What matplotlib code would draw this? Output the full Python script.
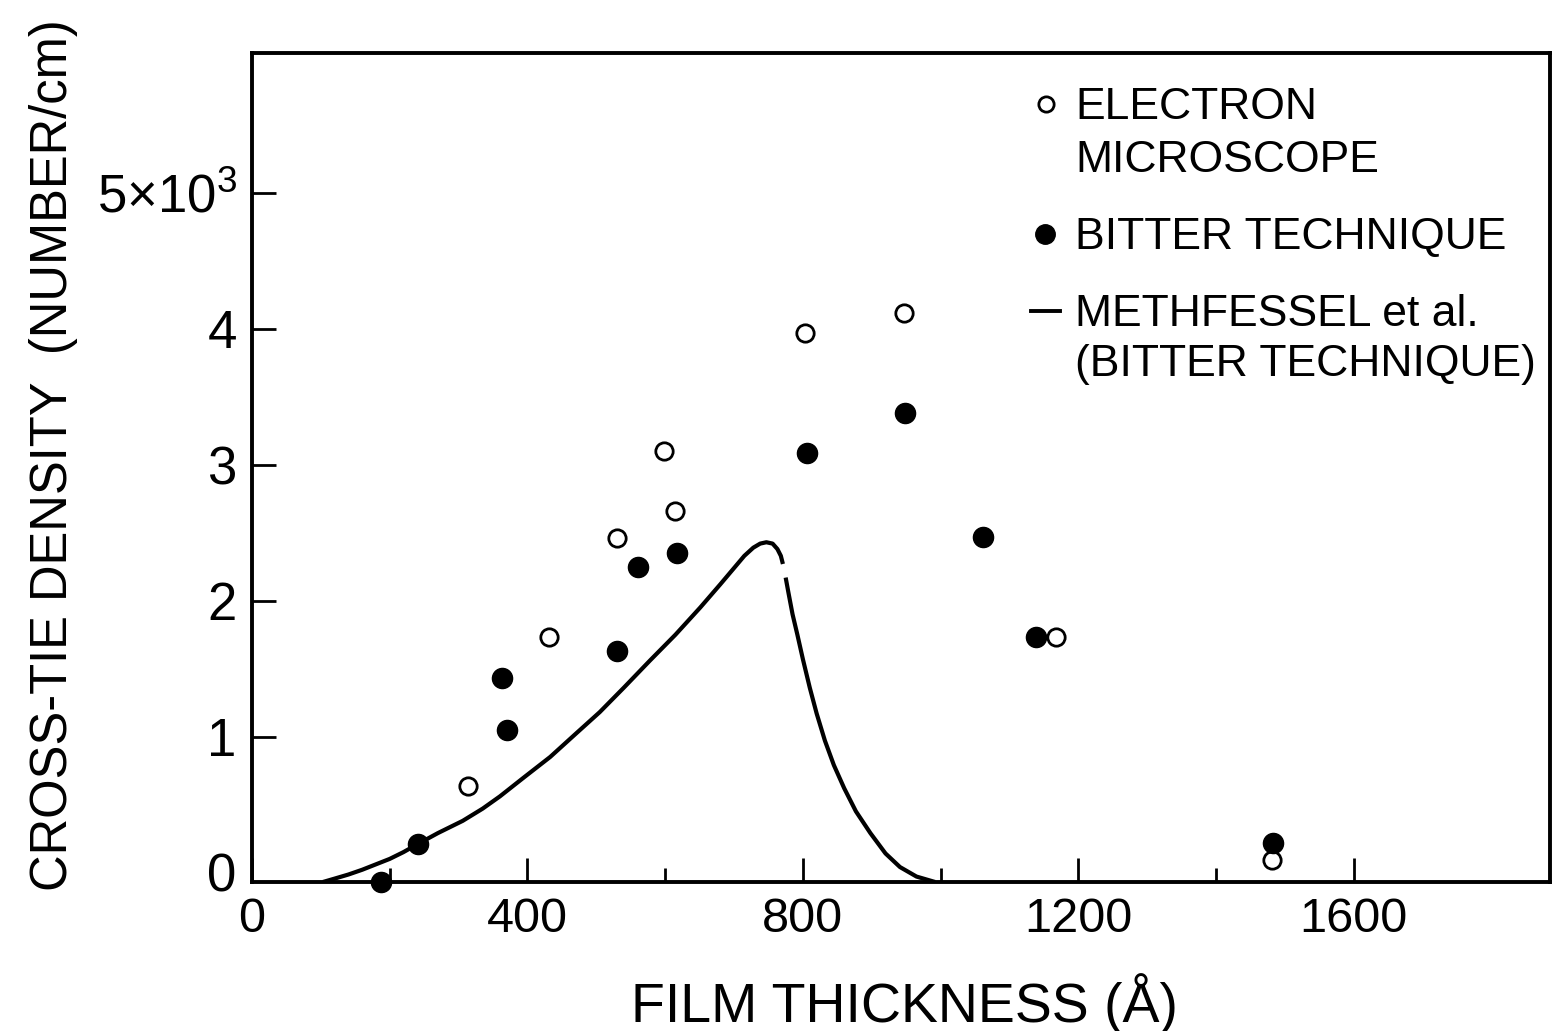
import matplotlib
matplotlib.use("Agg")
import matplotlib.pyplot as plt

plt.rcParams["font.family"] = ["Liberation Sans", "DejaVu Sans"]
plt.rcParams["mathtext.fontset"] = "custom"
plt.rcParams["mathtext.rm"] = "Liberation Sans"
plt.rcParams["mathtext.it"] = "Liberation Sans"
plt.rcParams["mathtext.bf"] = "Liberation Sans"

# Electron microscope measurements: thickness (Angstrom), density (10^3 / cm)
em_thickness = [314, 431, 530, 598, 614, 803, 947, 1168, 1481]
em_density = [0.64, 1.73, 2.46, 3.10, 2.66, 3.97, 4.12, 1.73, 0.09]

# Bitter technique measurements
bitter_thickness = [187, 241, 363, 370, 530, 561, 617, 806, 948, 1062, 1139, 1483]
bitter_density = [-0.07, 0.21, 1.43, 1.05, 1.63, 2.25, 2.35, 3.09, 3.38, 2.47, 1.73, 0.22]

# Methfessel et al. curve (Bitter technique), drawn in two strokes
meth_rise_x = [103, 120, 140, 160, 180, 200, 220, 241, 270, 306, 335, 360, 395, 433,
               470, 505, 540, 578, 615, 651, 680, 700, 715, 728, 738, 747, 756, 763,
               768, 771]
meth_rise_y = [-0.07, -0.045, -0.015, 0.02, 0.06, 0.10, 0.15, 0.21, 0.29, 0.38, 0.47,
               0.56, 0.70, 0.85, 1.02, 1.18, 1.36, 1.56, 1.75, 1.95, 2.12, 2.24, 2.33,
               2.39, 2.42, 2.43, 2.42, 2.38, 2.33, 2.27]
meth_fall_x = [775, 779, 785, 792, 800, 810, 820, 832, 845, 860, 877, 898, 920, 941,
               965, 992]
meth_fall_y = [2.17, 2.06, 1.90, 1.75, 1.57, 1.36, 1.17, 0.97, 0.79, 0.62, 0.45, 0.29,
               0.14, 0.04, -0.03, -0.07]

x_major = [0, 400, 800, 1200, 1600]
x_minor = [200, 600, 1000, 1400]
y_ticks = [0, 1, 2, 3, 4, 5]
y_ticklabels = ["0", "1", "2", "3", "4", r"5$\times$10$^{3}$"]

fig = plt.figure(figsize=(15.65, 10.31), dpi=100)
ax = fig.add_axes([252 / 1565, 1 - 882 / 1031, 1298 / 1565, 829 / 1031])

ax.set_xlim(0, 1885)
ax.set_ylim(-0.07, 6.03)

for s in ax.spines.values():
    s.set_linewidth(2.8)

ax.plot(meth_rise_x, meth_rise_y, color="black", lw=3.0, solid_capstyle="butt",
        solid_joinstyle="round")
ax.plot(meth_fall_x, meth_fall_y, color="black", lw=3.0, solid_capstyle="butt",
        solid_joinstyle="round")

ax.plot(em_thickness, em_density, linestyle="none", marker="o", ms=12.5,
        mfc="white", mec="black", mew=2.0, clip_on=False, zorder=3)
ax.plot(bitter_thickness, bitter_density, linestyle="none", marker="o", ms=14.5,
        mfc="black", mec="black", clip_on=False, zorder=4)

ax.set_xticks(x_major)
ax.set_xticks(x_minor, minor=True)
ax.set_xticklabels([str(v) for v in x_major], fontsize=35)
ax.set_yticks(y_ticks)
ax.set_yticklabels(y_ticklabels, fontsize=38)
ax.tick_params(axis="x", which="major", direction="in", length=17, width=2, pad=11)
ax.tick_params(axis="x", which="minor", direction="in", length=10, width=2)
ax.tick_params(axis="y", which="major", direction="in", length=17, width=2, pad=11)
ax.yaxis.get_major_ticks()[0].tick1line.set_visible(False)

fig.text(905 / 1565, 1 - 1022 / 1031, "FILM THICKNESS (Å)", fontsize=40,
         ha="center", va="baseline")
fig.text(67 / 1565, 1 - 455 / 1031, "CROSS-TIE DENSITY  (NUMBER/cm)", fontsize=36.5,
         rotation=90, rotation_mode="anchor", ha="center", va="baseline")

# Key
def ax_xy(px, py):
    return (px - 252) / 1298, (882 - py) / 829

tx = ax_xy(1075, 0)[0]
for label, py in [("ELECTRON", 119), ("MICROSCOPE", 172), ("BITTER TECHNIQUE", 249),
                  ("METHFESSEL et al.", 326), ("(BITTER TECHNIQUE)", 376)]:
    ax.text(tx, ax_xy(0, py)[1], label, transform=ax.transAxes, fontsize=32,
            ha="left", va="baseline")

ox, oy = ax_xy(1046, 104)
ax.plot([ox], [oy], transform=ax.transAxes, marker="o", ms=11, mfc="white",
        mec="black", mew=2.0, linestyle="none")
fx, fy = ax_xy(1045, 234)
ax.plot([fx], [fy], transform=ax.transAxes, marker="o", ms=14, mfc="black",
        mec="black", linestyle="none")
lx0, ly = ax_xy(1031, 311)
lx1, _ = ax_xy(1060, 311)
ax.plot([lx0, lx1], [ly, ly], transform=ax.transAxes, color="black", lw=2.8)

fig.savefig("out.png", dpi=100)
